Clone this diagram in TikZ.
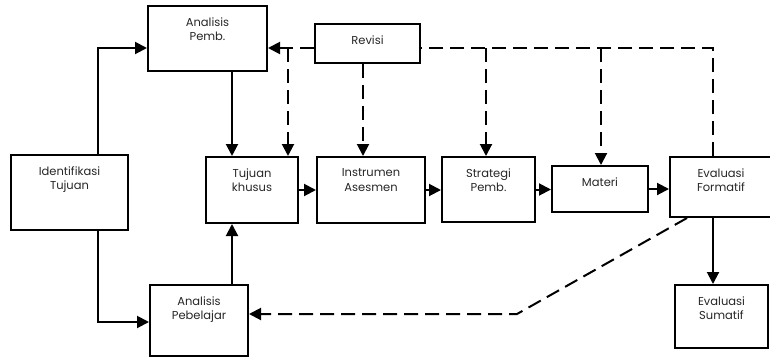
\documentclass[tikz,border=0pt]{standalone}
\usepackage{fontspec}
\setmainfont{Poppins}
\usetikzlibrary{arrows.meta}

\tikzset{
  box/.style={draw, line width=2pt, inner sep=0pt},
  lbl/.style={anchor=north, align=center, inner sep=0pt, yshift=-11.5pt,
    font=\fontsize{11.5}{14.5}\selectfont, text=black!85},
  arr/.style={-{Triangle[length=12pt,width=12pt]}},
  dsh/.style={dash pattern=on 14pt off 7pt}
}

\begin{document}
\begin{tikzpicture}[x=1pt, y=-1pt, line width=2pt]
\useasboundingbox (0,0) rectangle (770,359);

\node at (207.5,38.5) [box, minimum width=119pt, minimum height=65pt, label={[lbl]north:Analisis\\Pemb.}] (apemb) {};
\node at (367.5,43.5) [box, minimum width=105pt, minimum height=39pt, label={[lbl]north:Revisi}] (revisi) {};
\node at (69.5,192.5) [box, minimum width=117pt, minimum height=75pt, label={[lbl]north:Identifikasi\\Tujuan}] (ident) {};
\node at (252,190) [box, minimum width=92pt, minimum height=66pt, label={[lbl]north:Tujuan\\khusus}] (tujuan) {};
\node at (371,190) [box, minimum width=108pt, minimum height=66pt, label={[lbl]north:Instrumen\\Asesmen}] (instr) {};
\node at (488.5,189.5) [box, minimum width=93pt, minimum height=65pt, label={[lbl]north:Strategi\\Pemb.}] (strat) {};
\node at (600,189) [box, minimum width=96pt, minimum height=46pt, label={[lbl]north:Materi}] (materi) {};
\node at (721,187) [box, minimum width=102pt, minimum height=60pt, label={[lbl]north:Evaluasi\\Formatif}] (evform) {};
\node at (199,320.5) [box, minimum width=98pt, minimum height=71pt, label={[lbl]north:Analisis\\Pebelajar}] (apbl) {};
\node at (721.5,316.5) [box, minimum width=93pt, minimum height=63pt, label={[lbl]north:Evaluasi\\Sumatif}] (evsum) {};

% levels and columns of the connectors
\coordinate (lineA) at (0,48);
\coordinate (lineB) at (0,322);
\coordinate (knee) at (517,314);
\coordinate (colA) at (98,0);
\coordinate (colB) at (232,0);
\coordinate (colC) at (288,0);
\coordinate (colD) at (363,0);
\coordinate (colE) at (486,0);
\coordinate (colF) at (601,0);
\coordinate (colG) at (713,0);

% solid flow
\draw[arr] (ident.north -| colA) |- (apemb.west |- lineA);
\draw[arr] (ident.south -| colA) |- (apbl.west |- lineB);
\draw[arr] (apemb.south -| colB) -- (tujuan.north -| colB);
\draw[arr] (apbl.north -| colB) -- (tujuan.south -| colB);
\draw[arr] (tujuan.east) -- (tujuan.east -| instr.west);
\draw[arr] (instr.east) -- (instr.east -| strat.west);
\draw[arr] (strat.east) -- (strat.east -| materi.west);
\draw[arr] (materi.east) -- (materi.east -| evform.west);
\draw[arr] (evform.south -| colG) -- (evsum.north -| colG);

% revisi (dashed)
\draw[dsh] (evform.north -| colG) |- (revisi.east |- lineA);
\draw[dsh,arr] (revisi.west |- lineA) -- (apemb.east |- lineA);
\draw[dsh,arr] (colC |- lineA) -- (tujuan.north -| colC);
\draw[dsh,arr] (revisi.south -| colD) -- (instr.north -| colD);
\draw[dsh,arr] (colE |- lineA) -- (strat.north -| colE);
\draw[dsh,arr] (colF |- lineA) -- (materi.north -| colF);
\draw[dsh,arr] ([xshift=18pt]evform.south west) -- (knee) -- (apbl.east |- knee);
\end{tikzpicture}
\end{document}
